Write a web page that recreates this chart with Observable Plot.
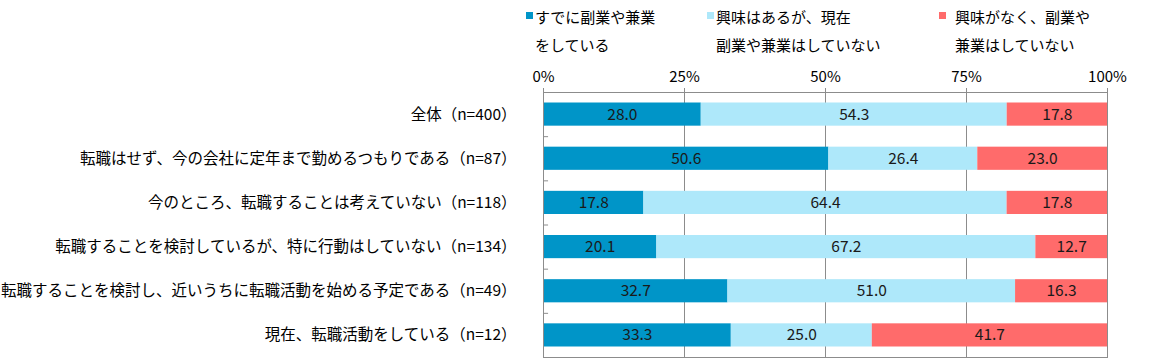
<!DOCTYPE html>
<html>
<head>
<meta charset="utf-8">
<script src="https://cdn.jsdelivr.net/npm/d3@7"></script>
<script src="https://cdn.jsdelivr.net/npm/@observablehq/plot@0.6"></script>
<style>
  html, body { margin: 0; padding: 0; background: #fff; }
  body { width: 1152px; height: 362px; overflow: hidden; font-family: "Noto Sans CJK JP", sans-serif; }
  #legend { position: relative; width: 1152px; height: 55px; font-size: 15px; color: #000; }
  .item { position: absolute; top: 3px; line-height: 28px; }
  .sw { position: absolute; width: 7px; height: 7px; top: 12px; }
  #chart svg { display: block; }
</style>
</head>
<body>
<div id="legend"></div>
<div id="chart"></div>
<script>
const categories = [
  "全体（n=400）",
  "転職はせず、今の会社に定年まで勤めるつもりである（n=87）",
  "今のところ、転職することは考えていない（n=118）",
  "転職することを検討しているが、特に行動はしていない（n=134）",
  "転職することを検討し、近いうちに転職活動を始める予定である（n=49）",
  "現在、転職活動をしている（n=12）"
];
const series = [
  "すでに副業や兼業をしている",
  "興味はあるが、現在副業や兼業はしていない",
  "興味がなく、副業や兼業はしていない"
];
const legendLines = [
  ["すでに副業や兼業", "をしている"],
  ["興味はあるが、現在", "副業や兼業はしていない"],
  ["興味がなく、副業や", "兼業はしていない"]
];
const colors = ["#0095C8", "#AEE8FA", "#FF6B6B"];
const valuesAlready = [28.0, 50.6, 17.8, 20.1, 32.7, 33.3];
const valuesInterested = [54.3, 26.4, 64.4, 67.2, 51.0, 25.0];
const valuesNotInterested = [17.8, 23.0, 17.8, 12.7, 16.3, 41.7];
const xTicks = [0, 0.25, 0.5, 0.75, 1];

const seriesValues = [valuesAlready, valuesInterested, valuesNotInterested];
const data = [];
series.forEach((s, si) => {
  categories.forEach((c, ci) => {
    data.push({category: c, series: s, value: seriesValues[si][ci]});
  });
});

// Legend
const legendX = [526, 707, 939];
const legend = document.getElementById("legend");
legendLines.forEach((lines, i) => {
  const sw = document.createElement("div");
  sw.className = "sw";
  sw.style.left = legendX[i] + "px";
  sw.style.background = colors[i];
  legend.appendChild(sw);
  const t = document.createElement("div");
  t.className = "item";
  t.style.left = (legendX[i] + (i === 2 ? 16 : 9)) + "px";
  t.innerHTML = lines.join("<br>");
  legend.appendChild(t);
});

const H = 307, mTop = 37, mBottom = 5;
const step = (H - mTop - mBottom) / categories.length;

const chart = Plot.plot({
  width: 1152,
  height: H,
  marginLeft: 543,
  marginRight: 45,
  marginTop: mTop,
  marginBottom: mBottom,
  style: {fontFamily: "'Noto Sans CJK JP', sans-serif", fontSize: "15px", color: "#000", background: "#fff"},
  x: {domain: [0, 1], axis: null, label: null},
  y: {domain: categories, padding: 0, round: false, axis: null, label: null},
  color: {domain: series, range: colors},
  marks: [
    Plot.ruleX(xTicks.slice(1), {stroke: "#8c8c8c", strokeWidth: 1}),
    Plot.barX(data, Plot.stackX({
      offset: "normalize",
      x: "value", y: "category", fill: "series",
      insetTop: 10.5, insetBottom: 10.5
    })),
    Plot.text(data, Plot.stackX({
      offset: "normalize",
      x: "value", y: "category", z: "series",
      text: d => d.value.toFixed(1),
      fill: "#1a1a1a", fontSize: 15.5
    })),
    Plot.frame({stroke: "#8c8c8c", strokeWidth: 1}),
    Plot.ruleY(categories.slice(0, -1), {y: d => d, x1: 0, x2: 0.009, dy: step / 2, stroke: "#8c8c8c"}),
    Plot.axisX(xTicks, {
      anchor: "top", tickSize: 5, tickPadding: 6, stroke: "#8c8c8c", label: null,
      tickFormat: d3.format(".0%"), fill: "#000", fontSize: 15
    }),
    Plot.axisY({
      anchor: "left", tickSize: 0, tickPadding: 27, fill: "#000", fontSize: 15.5, label: null
    })
  ]
});
document.getElementById("chart").appendChild(chart);
</script>
</body>
</html>
